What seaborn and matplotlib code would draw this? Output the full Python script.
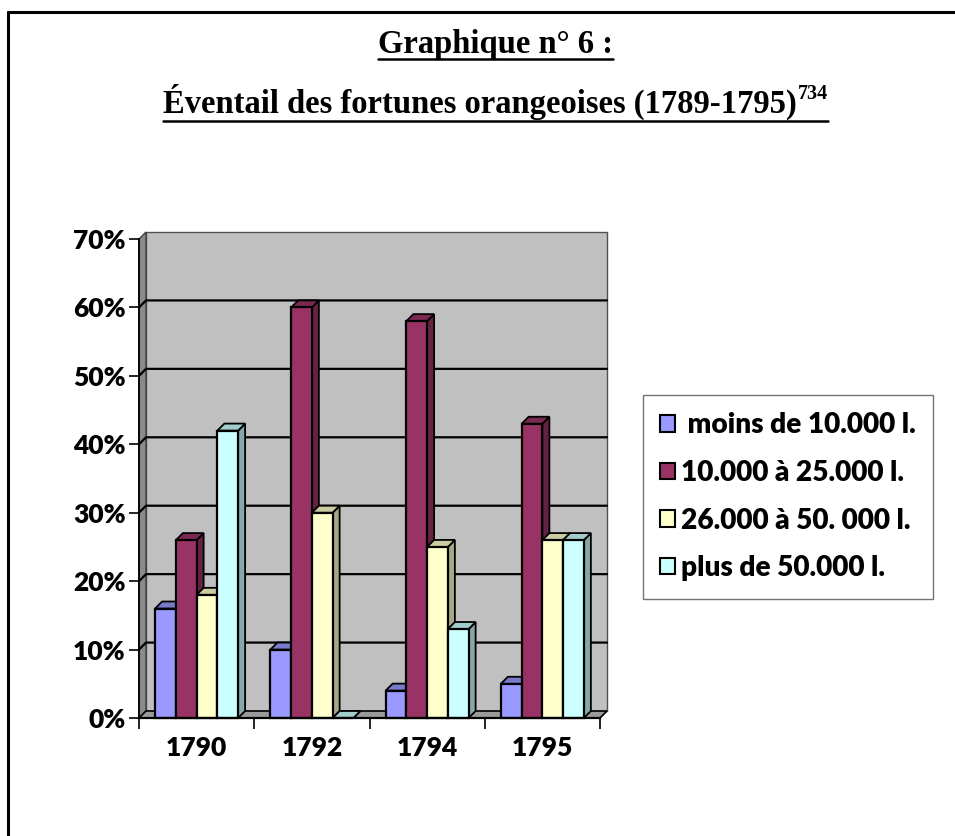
import matplotlib
matplotlib.use("Agg")
import matplotlib.pyplot as plt
from matplotlib.patches import Polygon, Patch
from matplotlib.lines import Line2D
import seaborn as sns
import pandas as pd
import numpy as np

# ---- data ----
years = ["1790", "1792", "1794", "1795"]
series = [" moins de 10.000 l.", "10.000 à 25.000 l.", "26.000 à 50. 000 l.", "plus de 50.000 l."]
moins_10000 = [16, 10, 4, 5]
de_10000_a_25000 = [26, 60, 58, 43]
de_26000_a_50000 = [18, 30, 25, 26]
plus_50000 = [42, 0, 13, 26]
yticks = [0, 10, 20, 30, 40, 50, 60, 70]
title1 = "Graphique n° 6 :"
title2 = "Éventail des fortunes orangeoises (1789-1795)"
title2_sup = "734"

colors = ["#9999FF", "#993366", "#FFFFCC", "#CCFFFF"]

rows = []
for s, vals in zip(series, [moins_10000, de_10000_a_25000, de_26000_a_50000, plus_50000]):
    for y, v in zip(years, vals):
        rows.append({"year": y, "tranche": s, "value": v / 100.0})
df = pd.DataFrame(rows)

sns.set_theme(style="white")
plt.rcParams["font.family"] = ["Lato", "DejaVu Sans"]
plt.rcParams["font.weight"] = "bold"
plt.rcParams["text.color"] = "black"
plt.rcParams["xtick.color"] = "black"
plt.rcParams["ytick.color"] = "black"

W, H = 955, 836
fig = plt.figure(figsize=(W / 100, H / 100), dpi=100)
fig.patch.set_facecolor("white")

# axes = front plane of the pseudo-3D chart
axL, axR, axB, axT = 139, 600, 718, 239
ax = fig.add_axes([axL / W, 1 - axB / H, (axR - axL) / W, (axB - axT) / H])
ax.patch.set_visible(False)

sns.barplot(data=df, x="year", y="value", hue="tranche", palette=colors,
            width=0.72, edgecolor="black", linewidth=1.6, saturation=1,
            legend=False, ax=ax, order=years, hue_order=series)

x0, x1, y0, y1 = -0.5, 3.5, 0.0, 0.70
ax.set_xlim(x0, x1)
ax.set_ylim(y0, y1)

d = 7  # depth in pixels
dxd = d * (x1 - x0) / (axR - axL)
dyd = d * (y1 - y0) / (axB - axT)

# back wall, left wall, floor
ax.add_patch(Polygon([(x0 + dxd, y0 + dyd), (x1 + dxd, y0 + dyd), (x1 + dxd, y1 + dyd), (x0 + dxd, y1 + dyd)],
                     closed=True, fc="#C0C0C0", ec="#505050", lw=1.0, zorder=0.2, clip_on=False))
ax.add_patch(Polygon([(x0, y0), (x0 + dxd, y0 + dyd), (x0 + dxd, y1 + dyd), (x0, y1)],
                     closed=True, fc="#8A8A8A", ec="#404040", lw=1.0, zorder=0.3, clip_on=False))
ax.add_patch(Polygon([(x0, y0), (x1, y0), (x1 + dxd, y0 + dyd), (x0 + dxd, y0 + dyd)],
                     closed=True, fc="#9A9A9A", ec="black", lw=1.2, zorder=0.3, clip_on=False))
for t in yticks[1:-1]:
    yv = t / 100
    ax.add_line(Line2D([x0, x0 + dxd, x1 + dxd], [yv, yv + dyd, yv + dyd],
                       color="black", lw=1.6, zorder=0.5, clip_on=False))

# 3-D faces for every bar drawn by seaborn
bars = sorted([p for p in ax.patches if hasattr(p, "get_width") and p.get_zorder() >= 0.9
               and p.get_width() < 1], key=lambda p: p.get_x())
for p in bars:
    bx, bw, bh = p.get_x(), p.get_width(), p.get_height()
    fc = np.array(p.get_facecolor()[:3])
    side = tuple(fc * 0.66)
    top = tuple(fc * 0.80)
    ax.add_patch(Polygon([(bx + bw, 0), (bx + bw + dxd, dyd), (bx + bw + dxd, bh + dyd), (bx + bw, bh)],
                         closed=True, fc=side, ec="black", lw=1.3, zorder=1.5, clip_on=False))
    ax.add_patch(Polygon([(bx, bh), (bx + bw, bh), (bx + bw + dxd, bh + dyd), (bx + dxd, bh + dyd)],
                         closed=True, fc=top, ec="black", lw=1.3, zorder=1.5, clip_on=False))
    p.set_zorder(2)
    p.set_clip_on(False)

# axes decoration
for s in ["top", "right"]:
    ax.spines[s].set_visible(False)
ax.spines["left"].set_color("black")
ax.spines["left"].set_linewidth(1.3)
ax.spines["bottom"].set_color("black")
ax.spines["bottom"].set_linewidth(1.6)
ax.spines["left"].set_zorder(3)

ax.set_yticks([t / 100 for t in yticks])
ax.set_yticklabels([f"{t}%" for t in yticks])
ax.set_xticks([i - 0.5 for i in range(len(years) + 1)])
ax.set_xticklabels([""] * (len(years) + 1))
ax.set_xticks(range(len(years)), minor=True)
ax.set_xticklabels(years, minor=True)
ax.tick_params(axis="y", which="major", length=7, width=1.2, color="black", pad=2.5,
               labelsize=19, left=True, labelcolor="black")
ax.tick_params(axis="x", which="major", length=8, width=1.2, color="black", bottom=True)
ax.tick_params(axis="x", which="minor", length=0, pad=13, labelsize=19, labelcolor="black")
for lab in ax.get_yticklabels() + ax.get_xticklabels(minor=True):
    lab.set_fontweight("heavy")
    lab.set_color("black")
ax.set_xlabel("")
ax.set_ylabel("")
ax.grid(False)

# legend
handles = [Patch(facecolor=c, edgecolor="black", linewidth=1.5) for c in colors]
leg = fig.legend(handles, series, loc="upper left", bbox_to_anchor=(643 / W, 1 - 395 / H),
                 bbox_transform=fig.transFigure, frameon=True, fancybox=False,
                 prop={"family": ["Lato", "DejaVu Sans"], "weight": "heavy", "size": 20.2},
                 handlelength=0.52, handleheight=0.52, handletextpad=0.2,
                 labelspacing=0.77, borderpad=0.62, borderaxespad=0)
leg.get_frame().set_edgecolor("#505050")
leg.get_frame().set_linewidth(1.0)
for tx in leg.get_texts():
    tx.set_color("black")

# outer frame (top and left lines)
fig.add_artist(Line2D([8 / W, 1.0], [1 - 12 / H, 1 - 12 / H], color="black", lw=2.2,
                      transform=fig.transFigure))
fig.add_artist(Line2D([8 / W, 8 / W], [0.0, 1 - 12 / H], color="black", lw=2.2,
                      transform=fig.transFigure))

# titles with underline
serif = ["Liberation Serif", "DejaVu Serif"]
cx = 495 / W
t1 = fig.text(cx, 1 - 53 / H, title1, ha="center", va="baseline", color="black",
              fontsize=23.5, fontweight="bold", family=serif)
t2 = fig.text(cx, 1 - 113 / H, title2, ha="left", va="baseline", color="black",
              fontsize=23.5, fontweight="bold", family=serif)
t2s = fig.text(0, 1 - 99 / H, title2_sup, ha="left", va="baseline", color="black",
               fontsize=14.5, fontweight="bold", family=serif)
fig.canvas.draw()
r = fig.canvas.get_renderer()
w2 = t2.get_window_extent(r).width
ws = t2s.get_window_extent(r).width
left = 495 - (w2 + ws) / 2
t2.set_x(left / W)
t2s.set_x((left + w2 + 1) / W)
fig.canvas.draw()
bb1 = t1.get_window_extent(r)
fig.add_artist(Line2D([bb1.x0 / W, bb1.x1 / W], [1 - 59 / H, 1 - 59 / H], color="black", lw=1.8,
                      transform=fig.transFigure))
bb2 = t2.get_window_extent(r)
bbs = t2s.get_window_extent(r)
fig.add_artist(Line2D([bb2.x0 / W, bbs.x1 / W], [1 - 121 / H, 1 - 121 / H], color="black", lw=1.8,
                      transform=fig.transFigure))

fig.savefig("out.png", dpi=100, facecolor="white")
